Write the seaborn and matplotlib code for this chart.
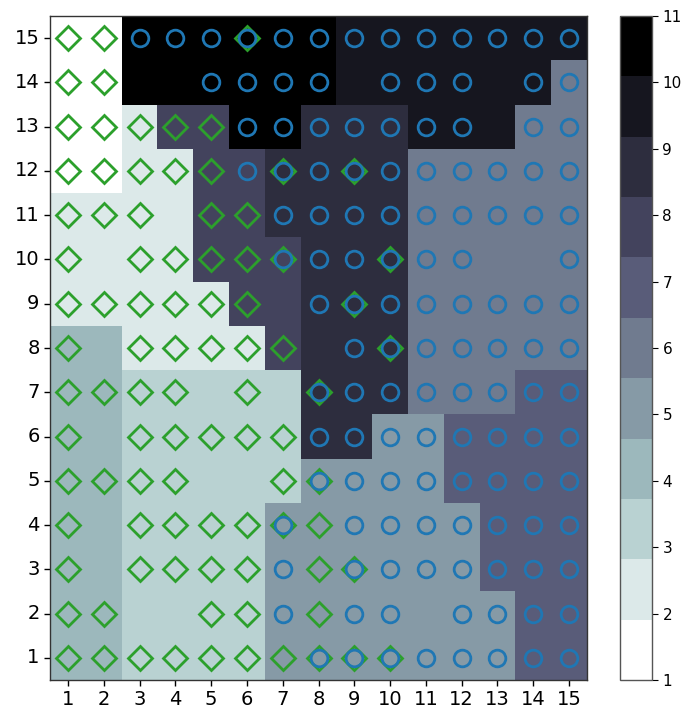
import matplotlib
matplotlib.use("Agg")
import matplotlib.pyplot as plt
import pandas as pd
import seaborn as sns

grid_cols = list(range(1, 16))
grid_rows = list(range(1, 16))
level_ticks = list(range(1, 12))

# Node level of every map cell, top row (15) first, columns 1..15
node_levels = [
    [1, 1, 11, 11, 11, 11, 11, 11, 10, 10, 10, 10, 10, 10, 10],
    [1, 1, 11, 11, 11, 11, 11, 11, 10, 10, 10, 10, 10, 10, 6],
    [1, 1, 2, 8, 8, 11, 11, 9, 9, 9, 10, 10, 10, 6, 6],
    [1, 1, 2, 2, 8, 8, 9, 9, 9, 9, 6, 6, 6, 6, 6],
    [2, 2, 2, 2, 8, 8, 9, 9, 9, 9, 6, 6, 6, 6, 6],
    [2, 2, 2, 2, 8, 8, 8, 9, 9, 9, 6, 6, 6, 6, 6],
    [2, 2, 2, 2, 2, 8, 8, 9, 9, 9, 6, 6, 6, 6, 6],
    [4, 4, 2, 2, 2, 2, 8, 9, 9, 9, 6, 6, 6, 6, 6],
    [4, 4, 3, 3, 3, 3, 3, 9, 9, 9, 6, 6, 6, 7, 7],
    [4, 4, 3, 3, 3, 3, 3, 9, 9, 5, 5, 7, 7, 7, 7],
    [4, 4, 3, 3, 3, 3, 3, 5, 5, 5, 5, 7, 7, 7, 7],
    [4, 4, 3, 3, 3, 3, 5, 5, 5, 5, 5, 5, 7, 7, 7],
    [4, 4, 3, 3, 3, 3, 5, 5, 5, 5, 5, 5, 7, 7, 7],
    [4, 4, 3, 3, 3, 3, 5, 5, 5, 5, 5, 5, 5, 7, 7],
    [4, 4, 3, 3, 3, 3, 5, 5, 5, 5, 5, 5, 5, 7, 7],
]

# Winning classes per cell, top row first:
# D = class drawn as diamond, O = class drawn as circle, B = both, . = none
node_markers = [
    "D D O O O B O O O O O O O O O",
    "D D . . O O O O . O O O . O O",
    "D D D D D O O O O O O O . O O",
    "D D D D D O B O B O O O O O O",
    "D D D . D D O O O O O O O O O",
    "D . D D D D B O O B O O . . O",
    "D D D D D D . O B O O O O O O",
    "D . D D D D D . O B O O O O O",
    "D D D D . D . B O O O O O O O",
    "D . D D D D D O O O O O O O O",
    "D D D D . . D B O O O O O O O",
    "D . D D D D B D O O O O O O O",
    "D . D D D D O D B O O O O O O",
    "D D . . D D O D O O . O O O O",
    "D D D D D D D B B B O O O O O",
]

# table with row 1 first so it ends up at the bottom
levels_df = pd.DataFrame(node_levels[::-1], index=grid_rows, columns=grid_cols)

fig = plt.figure(figsize=(6.86, 7.15), dpi=100)
ax = fig.add_axes([50 / 686, 35 / 715, 537 / 686, 664 / 715])
cax = fig.add_axes([620 / 686, 35 / 715, 32 / 686, 664 / 715])

cmap = plt.get_cmap("bone_r", 11)
sns.heatmap(levels_df, ax=ax, cbar_ax=cax, cmap=cmap, vmin=1, vmax=11,
            cbar_kws={"ticks": level_ticks})
ax.invert_yaxis()

# class markers on top of the map
dx, dy, ox, oy = [], [], [], []
for row_label, codes in zip(grid_rows[::-1], node_markers):
    for col_pos, code in enumerate(codes.split()):
        x = col_pos + 0.5
        y = row_label - 0.5
        if code in ("D", "B"):
            dx.append(x)
            dy.append(y)
        if code in ("O", "B"):
            ox.append(x)
            oy.append(y)

ax.plot(dx, dy, "D", markerfacecolor="None", markeredgecolor="C2",
        markersize=12, markeredgewidth=2, linestyle="None")
ax.plot(ox, oy, "o", markerfacecolor="None", markeredgecolor="C0",
        markersize=12, markeredgewidth=2, linestyle="None")

for spine in ax.spines.values():
    spine.set_visible(True)
    spine.set_linewidth(1.0)
    spine.set_color("#333333")

ax.set_xlabel("")
ax.set_ylabel("")
ax.tick_params(axis="both", labelsize=14, length=4, width=1)
ax.tick_params(axis="y", labelrotation=0)
ax.tick_params(axis="x", labelrotation=0)

cbar = ax.collections[0].colorbar
cbar.outline.set_visible(True)
cbar.outline.set_linewidth(1.0)
cbar.outline.set_edgecolor("#555555")
cbar.ax.tick_params(labelsize=11, length=4)

fig.savefig("out.png", dpi=100)
